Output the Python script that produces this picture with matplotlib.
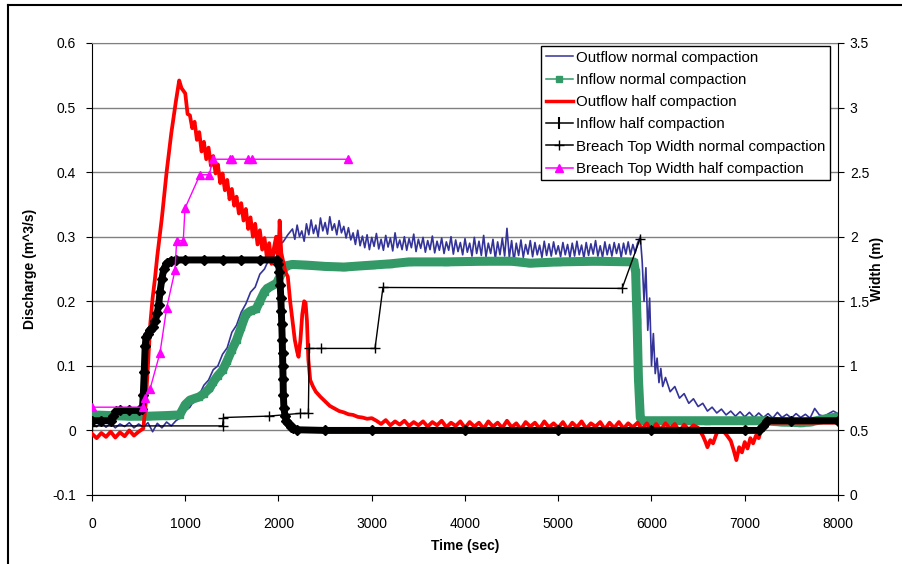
import matplotlib
matplotlib.use('Agg')
import numpy as np
from matplotlib import pyplot as plt
from matplotlib.lines import Line2D
from matplotlib.ticker import FuncFormatter

plt.rcParams['font.family'] = ['Liberation Sans', 'DejaVu Sans']

# Outflow, normal compaction (m^3/s)
blue_t = (list(range(0, 2101, 50)) + list(range(2150, 5851, 25))
          + [5880, 5900, 5920, 5940, 5960, 5980, 6000, 6020, 6040, 6060, 6080, 6100, 6120]
          + list(range(6150, 8001, 50)))
blue_q = [
    0.010, 0.006, 0.012, 0.005, 0.011, 0.004, 0.010, 0.006, 0.012, 0.004,
    0.010, 0.005, 0.012, -0.002, 0.011, 0.004, 0.013, 0.007, 0.015, 0.020,
    0.030, 0.036, 0.048, 0.055, 0.070, 0.078, 0.094, 0.100, 0.118, 0.128,
    0.152, 0.163, 0.183, 0.196, 0.214, 0.222, 0.242, 0.250, 0.266, 0.270,
    0.287, 0.292, 0.303,
    # plateau
    0.312, 0.296, 0.318, 0.300, 0.309, 0.293, 0.320, 0.303,
    0.326, 0.305, 0.318, 0.300, 0.329, 0.309, 0.322, 0.304,
    0.331, 0.310, 0.320, 0.303, 0.325, 0.306, 0.316, 0.298,
    0.314, 0.295, 0.306, 0.288, 0.310, 0.286, 0.301, 0.283,
    0.303, 0.280, 0.299, 0.285, 0.305, 0.281, 0.296, 0.279,
    0.302, 0.284, 0.298, 0.278, 0.306, 0.283, 0.295, 0.280,
    0.300, 0.279, 0.297, 0.283, 0.304, 0.277, 0.296, 0.282,
    0.299, 0.276, 0.294, 0.280, 0.301, 0.275, 0.293, 0.279,
    0.298, 0.274, 0.292, 0.279, 0.300, 0.273, 0.295, 0.277,
    0.291, 0.272, 0.297, 0.276, 0.290, 0.270, 0.299, 0.274,
    0.293, 0.271, 0.302, 0.269, 0.290, 0.274, 0.296, 0.266,
    0.292, 0.272, 0.298, 0.270, 0.313, 0.268, 0.294, 0.262,
    0.290, 0.271, 0.295, 0.268, 0.288, 0.273, 0.294, 0.269,
    0.291, 0.272, 0.287, 0.268, 0.293, 0.271, 0.289, 0.270,
    0.292, 0.273, 0.286, 0.269, 0.291, 0.272, 0.288, 0.268,
    0.290, 0.270, 0.293, 0.272, 0.287, 0.267, 0.291, 0.271,
    0.289, 0.273, 0.294, 0.270, 0.286, 0.268, 0.292, 0.272,
    0.288, 0.270, 0.291, 0.274, 0.289, 0.268, 0.290, 0.273,
    0.292, 0.272, 0.288, 0.275, 0.290,
    # drawdown
    0.300, 0.262, 0.200, 0.252, 0.155, 0.205, 0.100, 0.150, 0.088, 0.112,
    0.074, 0.096, 0.068,
    0.082, 0.060, 0.068, 0.050, 0.057, 0.042, 0.049, 0.037, 0.042, 0.030,
    0.036, 0.027, 0.033, 0.024, 0.030, 0.022, 0.029, 0.021, 0.028, 0.020,
    0.027, 0.020, 0.026, 0.019, 0.028, 0.020, 0.025, 0.019, 0.026, 0.020,
    0.025, 0.019, 0.034, 0.024, 0.022, 0.026, 0.030, 0.026,
]

# Outflow, half compaction (m^3/s)
red_t = (list(range(0, 551, 50))
         + [575, 600, 625, 650, 675, 700, 750, 800, 850, 900, 935, 960]
         + list(range(1000, 2001, 25))
         + [2012, 2030, 2050, 2075, 2100, 2125, 2150, 2175, 2200, 2215,
            2235, 2255, 2275, 2290, 2305, 2320, 2340, 2370, 2400, 2450,
            2500, 2550, 2600, 2650, 2700, 2750, 2800, 2850, 2900, 2950, 3000]
         + list(range(3050, 6451, 50))
         + [6500, 6550, 6580, 6600, 6630, 6660, 6700, 6750, 6800, 6850,
            6880, 6910, 6940, 6970, 7000, 7030, 7060, 7090, 7120, 7150,
            7180, 7250, 7400, 7600, 7800, 8000])
red_q = [
    -0.005, -0.012, -0.004, -0.010, -0.002, -0.011, -0.003, -0.009, 0.000, -0.008,
    -0.002, 0.003,
    0.040, 0.100, 0.165, 0.205, 0.235, 0.270, 0.330, 0.400, 0.460, 0.510, 0.542, 0.530,
    0.522, 0.490, 0.488, 0.468, 0.478, 0.450, 0.462, 0.432, 0.447, 0.420,
    0.438, 0.410, 0.425, 0.398, 0.412, 0.383, 0.398, 0.372, 0.388, 0.358,
    0.374, 0.348, 0.362, 0.336, 0.352, 0.325, 0.343, 0.312, 0.330, 0.300,
    0.320, 0.288, 0.310, 0.280, 0.298, 0.268, 0.290, 0.258, 0.282, 0.300,
    0.262,
    0.325, 0.275, 0.262, 0.245, 0.238, 0.200, 0.170, 0.140, 0.122, 0.114,
    0.140, 0.180, 0.200, 0.198, 0.170, 0.110, 0.078, 0.068, 0.060, 0.052,
    0.045, 0.038, 0.034, 0.030, 0.028, 0.025, 0.024, 0.021, 0.020, 0.018, 0.019,
    0.015, 0.010, 0.016, 0.008, 0.014, 0.009, 0.015, 0.007, 0.013, 0.008,
    0.014, 0.006, 0.013, 0.008, 0.015, 0.005, 0.012, 0.007, 0.014, 0.004,
    0.013, 0.006, 0.012, 0.003, 0.014, 0.006, 0.012, 0.004, 0.015, 0.005,
    0.011, 0.002, 0.013, 0.006, 0.012, 0.003, 0.014, 0.005, 0.011, 0.004,
    0.013, 0.002, 0.012, 0.005, 0.014, 0.003, 0.011, 0.006, 0.013, 0.002,
    0.012, 0.004, 0.013, 0.003, 0.011, 0.005, 0.012, 0.002, 0.011, 0.000,
    0.010, 0.001, 0.011, 0.003, 0.010, -0.002, 0.009, 0.001, 0.008,
    0.004, -0.008, -0.018, -0.026, -0.015, -0.020, -0.004, 0.002, -0.006, -0.016,
    -0.030, -0.046, -0.026, -0.034, -0.018, -0.028, -0.012, -0.020, -0.008, -0.012,
    0.004, 0.012, 0.012, 0.012, 0.012, 0.012,
]

# Inflow, normal compaction (m^3/s)
green_t = [0, 200, 400, 600, 800, 940, 1000, 1050, 1150, 1200, 1260, 1300, 1350,
           1400, 1450, 1500, 1550, 1600, 1650, 1700, 1760, 1800, 1850, 1880,
           1980, 2020, 2080, 2150, 2300, 2500, 2700, 3000, 3200, 3400, 3800,
           4200, 4500, 4700, 5000, 5400, 5810, 5830, 5845, 5860, 5880, 5900,
           6200, 6600, 7000, 7200, 7400, 7600, 7700, 7800, 7900, 8000]
green_q = [0.024, 0.023, 0.022, 0.022, 0.023, 0.024, 0.040, 0.047, 0.052, 0.057,
           0.065, 0.075, 0.085, 0.093, 0.108, 0.125, 0.140, 0.160, 0.180, 0.185,
           0.188, 0.200, 0.215, 0.220, 0.228, 0.240, 0.255, 0.257, 0.256, 0.254,
           0.253, 0.256, 0.258, 0.261, 0.261, 0.262, 0.262, 0.259, 0.261, 0.262,
           0.261, 0.245, 0.170, 0.080, 0.020, 0.015, 0.015, 0.015, 0.015, 0.015,
           0.013, 0.012, 0.013, 0.016, 0.019, 0.021]

# Inflow, half compaction (m^3/s)
black_t = [0, 100, 200, 230, 260, 300, 400, 500, 540, 550, 560, 570, 580, 600,
           620, 650, 680, 700, 715, 730, 750, 770, 800, 850, 900, 1000, 1200,
           1400, 1600, 1800, 1980, 2000, 2010, 2018, 2025, 2030, 2035, 2040,
           2043, 2046, 2049, 2052, 2058, 2070, 2085, 2100, 2130, 2160, 2200,
           2500, 3000, 4000, 5000, 6000, 7000, 7150, 7200, 7240, 7500, 8000]
black_q = [0.015, 0.015, 0.015, 0.022, 0.030, 0.031, 0.031, 0.031, 0.033, 0.055,
           0.090, 0.130, 0.145, 0.150, 0.156, 0.160, 0.170, 0.182, 0.195, 0.215,
           0.235, 0.250, 0.259, 0.263, 0.264, 0.264, 0.264, 0.264, 0.264, 0.264,
           0.264, 0.258, 0.245, 0.225, 0.205, 0.185, 0.165, 0.140, 0.120, 0.100,
           0.080, 0.055, 0.035, 0.022, 0.015, 0.011, 0.006, 0.003, 0.001, 0.000,
           0.000, 0.000, 0.000, 0.000, 0.000, 0.000, 0.007, 0.015, 0.015, 0.015]

# Breach top width, normal compaction (m)
wn_t = [0, 1400, 1410, 1900, 2230, 2320, 2330, 2460, 3035, 3120, 5685, 5875]
wn_w = [0.535, 0.535, 0.600, 0.611, 0.632, 0.632, 1.135, 1.135, 1.135, 1.607, 1.600, 1.980]

# Breach top width, half compaction (m)
wh_t = [0, 550, 568, 622, 729, 801, 890, 908, 979, 997, 1158, 1258, 1294,
        1480, 1505, 1676, 1712, 2745]
wh_w = [0.68, 0.68, 0.75, 0.82, 1.10, 1.45, 1.74, 1.97, 1.97, 2.22, 2.48, 2.48,
        2.60, 2.60, 2.60, 2.60, 2.60, 2.60]

labels = [
    'Outflow normal compaction',
    'Inflow normal compaction',
    'Outflow half compaction',
    'Inflow half compaction',
    'Breach Top Width normal compaction',
    'Breach Top Width half compaction',
]

BLUE = '#333399'
GREEN = '#339966'
RED = '#ff0000'
MAGENTA = '#ff00ff'

W, H = 903, 564
fig = plt.figure(figsize=(W / 100, H / 100), dpi=100)
ax = fig.add_axes([92 / W, 1 - 495 / H, 746 / W, 452 / H])
ax2 = ax.twinx()

ax.plot(blue_t, blue_q, color=BLUE, lw=1.2, zorder=2)
ax.plot(green_t, green_q, color=GREEN, lw=6.5, marker='s', ms=5,
        solid_capstyle='butt', zorder=3)
ax.plot(red_t, red_q, color=RED, lw=2.7, zorder=4)
ax.plot(black_t, black_q, color='black', lw=5, marker='D', ms=5, zorder=5)

ax2.plot(wn_t, wn_w, color='black', lw=1, marker='+', ms=7, mew=1)
ax2.plot(wh_t, wh_w, color=MAGENTA, lw=1, marker='^', ms=6)

ax.set_xlim(0, 8000)
ax.set_ylim(-0.1, 0.6)
ax2.set_ylim(0, 3.5)
ax.set_xticks(range(0, 8001, 1000))
ax.set_yticks([-0.1, 0, 0.1, 0.2, 0.3, 0.4, 0.5, 0.6])
ax2.set_yticks([0, 0.5, 1, 1.5, 2, 2.5, 3, 3.5])
fmt = FuncFormatter(lambda v, p: f'{round(v, 3):g}')
ax.yaxis.set_major_formatter(fmt)
ax2.yaxis.set_major_formatter(fmt)

ax.yaxis.grid(True, color='#808080', lw=1)
ax.set_axisbelow(True)

for s in ['left', 'bottom']:
    ax.spines[s].set_color('black')
ax.spines['top'].set_color('#808080')
ax.spines['right'].set_visible(False)
for s in ['left', 'bottom', 'top']:
    ax2.spines[s].set_visible(False)
ax2.spines['right'].set_color('black')

ax.tick_params(axis='x', direction='out', length=4.5, pad=11, labelsize=10)
ax.tick_params(axis='y', direction='out', length=4.5, pad=7, labelsize=10)
ax2.tick_params(axis='y', direction='out', length=4.5, pad=4, labelsize=10)

fig.text(465 / W, 1 - 546 / H, 'Time (sec)', ha='center', va='center',
         fontsize=10, fontweight='bold')
fig.text(30 / W, 1 - 269 / H, 'Discharge (m^3/s)', ha='center', va='center',
         rotation=90, fontsize=10, fontweight='bold')
fig.text(877 / W, 1 - 269 / H, 'Width (m)', ha='center', va='center',
         rotation=90, fontsize=10, fontweight='bold')

handles = [
    Line2D([], [], color=BLUE, lw=1.1),
    Line2D([], [], color=GREEN, lw=1.1, marker='s', ms=5),
    Line2D([], [], color=RED, lw=2.5),
    Line2D([], [], color='black', lw=1.1, marker='|', ms=8, mew=1.5),
    Line2D([], [], color='black', lw=1.1, marker='+', ms=7, mew=1),
    Line2D([], [], color=MAGENTA, lw=1.1, marker='^', ms=6),
]
leg = ax2.legend(handles, labels, loc='upper right',
                 bbox_to_anchor=(0.989, 0.993), bbox_transform=ax.transAxes,
                 fontsize=10.8, frameon=True, fancybox=False, framealpha=1,
                 edgecolor='black', borderaxespad=0, handlelength=1.78,
                 handletextpad=0.22, labelspacing=0.55, borderpad=0.3)
leg.get_frame().set_linewidth(1)

# outer chart frame
fig.add_artist(Line2D([8 / W, 8 / W], [0, 1 - 5 / H], transform=fig.transFigure,
                      color='black', lw=1.5))
fig.add_artist(Line2D([8 / W, 1], [1 - 5 / H, 1 - 5 / H], transform=fig.transFigure,
                      color='black', lw=1.5))

fig.savefig('out.png', dpi=100)
